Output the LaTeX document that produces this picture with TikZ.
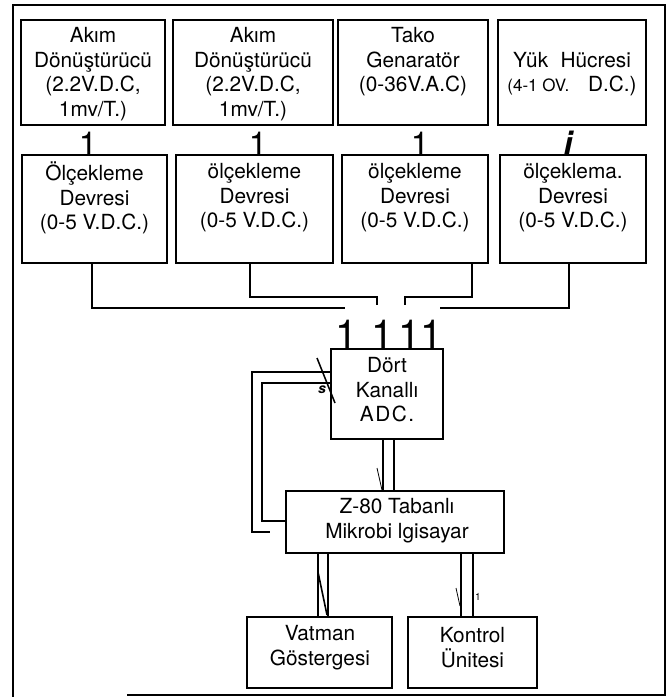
\documentclass[tikz,border=0pt]{standalone}
\usepackage{fontspec}
\setmainfont{TeX Gyre Heros}
\usetikzlibrary{arrows.meta}
\begin{document}
\begin{tikzpicture}[x=1pt,y=-1pt,
  box/.style={draw,line width=1.8pt,inner sep=0pt,outer sep=0pt},
  lbl/.style={align=center,inner sep=0pt,font=\fontsize{20.8}{24.5}\selectfont},
  digit/.style={inner sep=0pt,anchor=south,font=\fontsize{33}{33}\selectfont},
  bigdigit/.style={inner sep=0pt,anchor=south,font=\fontsize{40}{40}\selectfont},
  wire/.style={line width=1.8pt},
  thinmark/.style={line width=0.8pt}]
\useasboundingbox (0,0) rectangle (671,697);
% outer frame
\draw[wire] (13,697) -- (13,5) -- (665,5) -- (665,695) -- (127,695);
% top row
\node[box,minimum width=144pt,minimum height=105pt] (t1) at (93,72.5) {};
\node[box,minimum width=160pt,minimum height=105pt] (t2) at (253,72.5) {};
\node[box,minimum width=150pt,minimum height=105pt] (t3) at (413,72.5) {};
\node[box,minimum width=148pt,minimum height=105pt] (t4) at (572,72.5) {};
\node[lbl] (t1l) at (93,74) {Akım\\Dönüştürücü\\(2.2V.D.C,\\1mv/T.)};
\node[lbl] (t2l) at (253,74) {Akım\\Dönüştürücü\\(2.2V.D.C,\\1mv/T.)};
\node[lbl] (t3l) at (413,62) {Tako\\Genaratör\\(0-36V.A.C)};
\node[lbl] (t4l) at (572,74) {Yük\hspace{0.6em}Hücresi\\{\fontsize{17}{24.5}\selectfont(4-1 OV.}\hspace{0.9em}D.C.)};
% second row
\node[box,minimum width=145pt,minimum height=108pt] (s1) at (94.5,209) {};
\node[box,minimum width=157pt,minimum height=108pt] (s2) at (254.5,209) {};
\node[box,minimum width=146pt,minimum height=108pt] (s3) at (415,209) {};
\node[box,minimum width=146pt,minimum height=108pt] (s4) at (573,209) {};
\node[lbl] (s1l) at (94.5,198) {Ölçekleme\\Devresi\\(0-5 V.D.C.)};
\node[lbl] (s2l) at (254.5,198) {ölçekleme\\Devresi\\(0-5 V.D.C.)};
\node[lbl] (s3l) at (415,198) {ölçekleme\\Devresi\\(0-5 V.D.C.)};
\node[lbl] (s4l) at (573,198) {ölçeklema.\\Devresi\\(0-5 V.D.C.)};
% digits between rows
\node[digit] (g1) at (88,156) {1};
\node[digit] (g2) at (258,156) {1};
\node[digit] (g3) at (420,156) {1};
\node[digit,font=\fontsize{33}{33}\selectfont\bfseries\itshape] (g4) at (568,156) {i};
% ADC
\node[box,minimum width=112pt,minimum height=90pt] (adc) at (387,394) {};
\node[lbl] (adcl) at (387,390) {Dört\\Kanallı\\A\kern1.5pt D\kern1.5pt C\kern1.5pt.};
% bus
\coordinate (b1) at (345,308);
\coordinate (b2) at (377,305);
\coordinate (b3) at (405,305);
\coordinate (b4) at (440,308);
\draw[wire] ([xshift=-2.5pt]s1.south) |- (b1);
\draw[wire] ([xshift=-4.5pt]s2.south) -- ++(0,34) -| (b2);
\draw[wire] ([xshift=57pt]s3.south) -- ++(0,34) -| (b3);
\draw[wire] ([xshift=-4pt]s4.south) |- (b4);
\node[bigdigit] (a1) at (347,349) {1};
\node[bigdigit] (a2) at (383,349) {1};
\node[bigdigit] (a3) at (410,349) {1};
\node[bigdigit] (a4) at (432,349) {1};
% microcomputer
\node[box,minimum width=218pt,minimum height=62pt] (mc) at (395,522) {};
\node[lbl] (mcl) at (397,520.5) {Z-80 Tabanlı\\Mikrobi lgisayar};
% feedback loops
\coordinate (lf) at (270,532);
\draw[wire] (adc.west |- 0,372) -| (252,532) -- (lf);
\draw[wire] (adc.west |- 0,383) -| (262,521) -- (mc.west |- 0,521);
\draw[line width=1.5pt] (317,358) -- (335,403);
\node[inner sep=0pt,font=\fontsize{14}{14}\selectfont\bfseries\itshape] (sl) at (322,390) {s};
% ADC -> MC
\draw[wire] (adc.south -| 383,0) -- (mc.north -| 383,0);
\draw[wire] (adc.south -| 394,0) -- (mc.north -| 394,0);
\draw[thinmark] (377,468) -- (382,490);
% bottom boxes
\node[box,minimum width=145pt,minimum height=71pt] (v) at (319.5,652.5) {};
\node[box,minimum width=129pt,minimum height=71pt] (k) at (472.5,652.5) {};
\node[lbl] (vl) at (320,647.5) {Vatman\\Göstergesi};
\node[lbl] (kl) at (472.5,647.5) {Kontrol\\Ünitesi};
% MC -> bottom
\draw[wire] (mc.south -| 318,0) -- (v.north -| 318,0);
\draw[wire] (mc.south -| 328,0) -- (v.north -| 328,0);
\draw[line width=1.6pt] (318,572) -- (327,615);
\draw[wire] (mc.south -| 461,0) -- (k.north -| 461,0);
\draw[wire] (mc.south -| 473,0) -- (k.north -| 473,0);
\draw[thinmark] (456,588) -- (460,606);
\node[inner sep=0pt,font=\fontsize{10}{10}\selectfont] (k1) at (478,597) {1};
\end{tikzpicture}
\end{document}
